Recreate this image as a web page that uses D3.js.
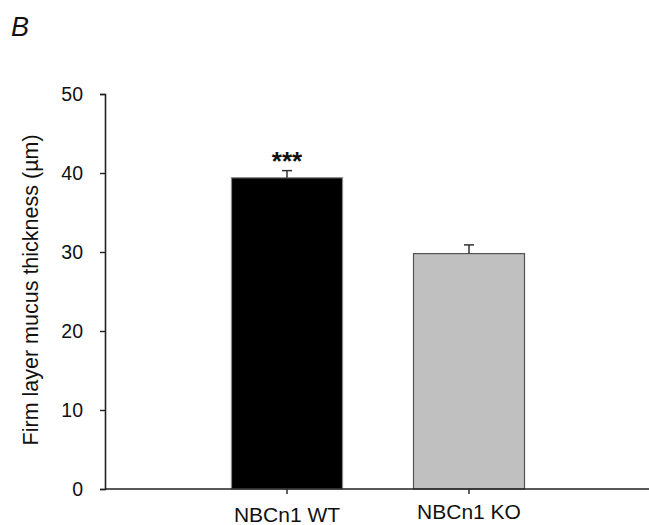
<!DOCTYPE html>
<html>
<head>
<meta charset="utf-8">
<script src="https://cdn.jsdelivr.net/npm/d3@7"></script>
<style>
body{margin:0;background:#fff}
text{font-family:"Liberation Sans",Arial,Helvetica,sans-serif;fill:#111}
</style>
</head>
<body>
<script>
var groups = ['NBCn1 WT','NBCn1 KO']
var means = [39.4, 29.8]
var errs = [0.9, 1.1]
var signif = ['***','']
var fills = ['#000000','#c0c0c0']
var yTicks = [0,10,20,30,40,50]

var W = 649, H = 525
var svg = d3.select('body').append('svg').attr('width',W).attr('height',H)

var y = d3.scaleLinear().domain([0,50]).range([489,94])
var x = d3.scaleBand().domain(groups).range([196,560]).paddingInner(0.39).paddingOuter(0.195)

// panel letter
svg.append('text').text('B')
	.attr('x',11).attr('y',36)
	.style('font-size','27px').style('font-style','italic')

// y axis
var yAxis = svg.append('g').attr('transform','translate(105,0)')
	.call(d3.axisLeft(y).tickValues(yTicks).tickSize(5).tickPadding(17))
yAxis.select('.domain').attr('stroke','#222').attr('stroke-width',1.6)
yAxis.selectAll('.tick line').attr('stroke','#222').attr('stroke-width',1.4)
yAxis.selectAll('.tick text').style('font-size','19.5px').style('font-family','"Liberation Sans",Arial,sans-serif').attr('fill','#111')

svg.append('text').text('Firm layer mucus thickness (\u00b5m)')
	.attr('transform','translate(38,'+y(25.2)+') rotate(-90)')
	.attr('text-anchor','middle')
	.style('font-size','21.5px')

// bars
var bars = svg.append('g')
bars.selectAll('rect').data(groups).join('rect')
	.attr('x',d=>x(d))
	.attr('y',(d,i)=>y(means[i]))
	.attr('width',x.bandwidth())
	.attr('height',(d,i)=>y(0)-y(means[i]))
	.attr('fill',(d,i)=>fills[i])
	.attr('stroke',(d,i)=>i==0?'#888':'#555')
	.attr('stroke-width',1.2)

// error bars (upper only)
groups.forEach((g,i)=>{
	var cx = x(g)+x.bandwidth()/2
	svg.append('line')
		.attr('x1',cx).attr('x2',cx)
		.attr('y1',y(means[i])).attr('y2',y(means[i]+errs[i]))
		.attr('stroke','#333').attr('stroke-width',1.5)
	svg.append('line')
		.attr('x1',cx-5).attr('x2',cx+5)
		.attr('y1',y(means[i]+errs[i])).attr('y2',y(means[i]+errs[i]))
		.attr('stroke','#333').attr('stroke-width',1.5)
	if (signif[i])
		svg.append('text').text(signif[i])
			.attr('x',cx).attr('y',y(means[i]+errs[i])-1)
			.attr('text-anchor','middle')
			.style('font-size','26px').style('font-weight','bold')
})

// x axis
var xAxis = svg.append('g').attr('transform','translate(0,'+y(0)+')')
xAxis.append('line').attr('x1',105).attr('x2',W).attr('y1',0).attr('y2',0)
	.attr('stroke','#222').attr('stroke-width',1.6)
groups.forEach((g,i)=>{
	var cx = x(g)+x.bandwidth()/2
	xAxis.append('line').attr('x1',cx).attr('x2',cx).attr('y1',0).attr('y2',5)
		.attr('stroke','#222').attr('stroke-width',1.4)
	xAxis.append('text').text(g)
		.attr('x',cx).attr('y',i==0?33:30)
		.attr('text-anchor','middle')
		.style('font-size','21px')
})
</script>
</body>
</html>
